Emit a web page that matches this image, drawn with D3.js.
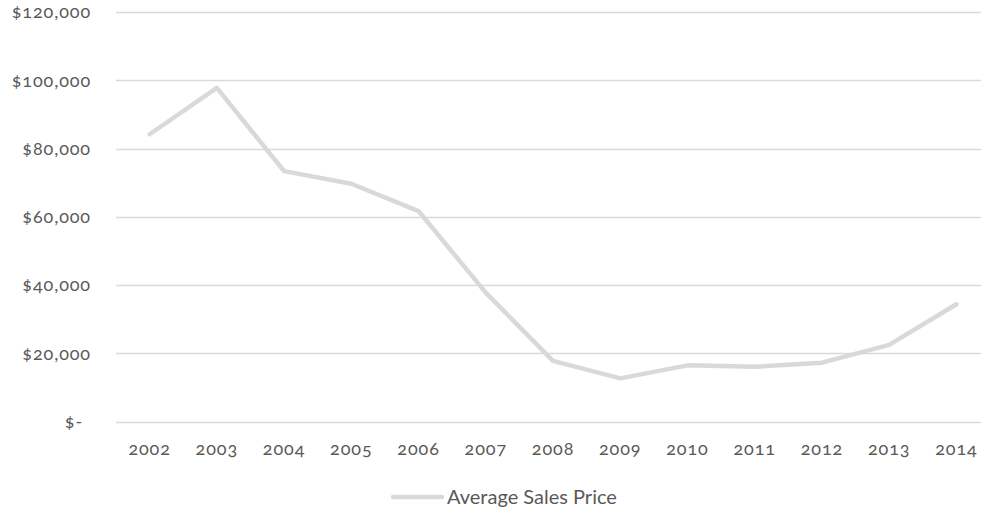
<!DOCTYPE html>
<html>
<head>
<meta charset="utf-8">
<script src="https://cdn.jsdelivr.net/npm/d3@7"></script>
<style>
  html, body { margin: 0; padding: 0; background: #fff; }
  svg { display: block; }
  .axis text {
    font-family: "Lato", "Open Sans", sans-serif;
    fill: #595959;
    font-variant-numeric: oldstyle-nums;
    font-feature-settings: "onum" 1;
    letter-spacing: 0.9px;
  }
  .legend text { font-family: "Lato", "Open Sans", sans-serif; fill: #595959; }
</style>
</head>
<body>
<svg id="chart" width="981" height="512"></svg>
<script>
// Average sales price by year
const years = ["2002","2003","2004","2005","2006","2007","2008","2009","2010","2011","2012","2013","2014"];
const avgSalesPrice = [84200, 97800, 73400, 69700, 61700, 37800, 17800, 12700, 16500, 16100, 17300, 22500, 34400];
const yTicks = [0, 20000, 40000, 60000, 80000, 100000, 120000];
const seriesName = "Average Sales Price";

const svg = d3.select("#chart");
const W = 981, H = 512;
const plot = { left: 116, right: 990, top: 12, bottom: 421.7 };

const x = d3.scaleBand().domain(years).range([plot.left, plot.right]);
const y = d3.scaleLinear().domain([0, 120000]).range([plot.bottom, plot.top]);

const fmt = d3.format(",");

// horizontal gridlines
svg.append("g")
  .selectAll("line")
  .data(yTicks)
  .join("line")
  .attr("x1", plot.left)
  .attr("x2", W)
  .attr("y1", d => Math.round(y(d)) + 0.5)
  .attr("y2", d => Math.round(y(d)) + 0.5)
  .attr("stroke", "#d9d9d9")
  .attr("stroke-width", 1.3);

// y axis labels
const yAxis = svg.append("g")
  .attr("class", "axis")
  .attr("transform", `translate(${plot.left - 25},0)`)
  .call(d3.axisLeft(y).tickValues(yTicks).tickSize(0).tickPadding(0)
    .tickFormat(d => d === 0 ? "$-" : "$" + fmt(d)));
yAxis.select(".domain").remove();
yAxis.selectAll("text")
  .attr("font-size", 18)
  .attr("dx", d => d === 0 ? -8 : 0);

// x axis labels
const xAxis = svg.append("g")
  .attr("class", "axis")
  .attr("transform", `translate(0,${plot.bottom})`)
  .call(d3.axisBottom(x).tickSize(0).tickPadding(21));
xAxis.select(".domain").remove();
xAxis.selectAll("text").attr("font-size", 18);

// series line
const line = d3.line()
  .x((d, i) => x(years[i]) + x.bandwidth() / 2)
  .y(d => y(d));

svg.append("path")
  .datum(avgSalesPrice)
  .attr("fill", "none")
  .attr("stroke", "#d9d9d9")
  .attr("stroke-width", 4.5)
  .attr("stroke-linejoin", "round")
  .attr("stroke-linecap", "round")
  .attr("d", line);

// legend
const legend = svg.append("g").attr("class", "legend").attr("transform", "translate(393,497)");
legend.append("line")
  .attr("x1", 0).attr("x2", 49)
  .attr("stroke", "#d9d9d9")
  .attr("stroke-width", 4.5)
  .attr("stroke-linecap", "round");
legend.append("text")
  .attr("x", 54)
  .attr("dy", "0.35em")
  .attr("font-size", 20)
  .text(seriesName);
</script>
</body>
</html>
